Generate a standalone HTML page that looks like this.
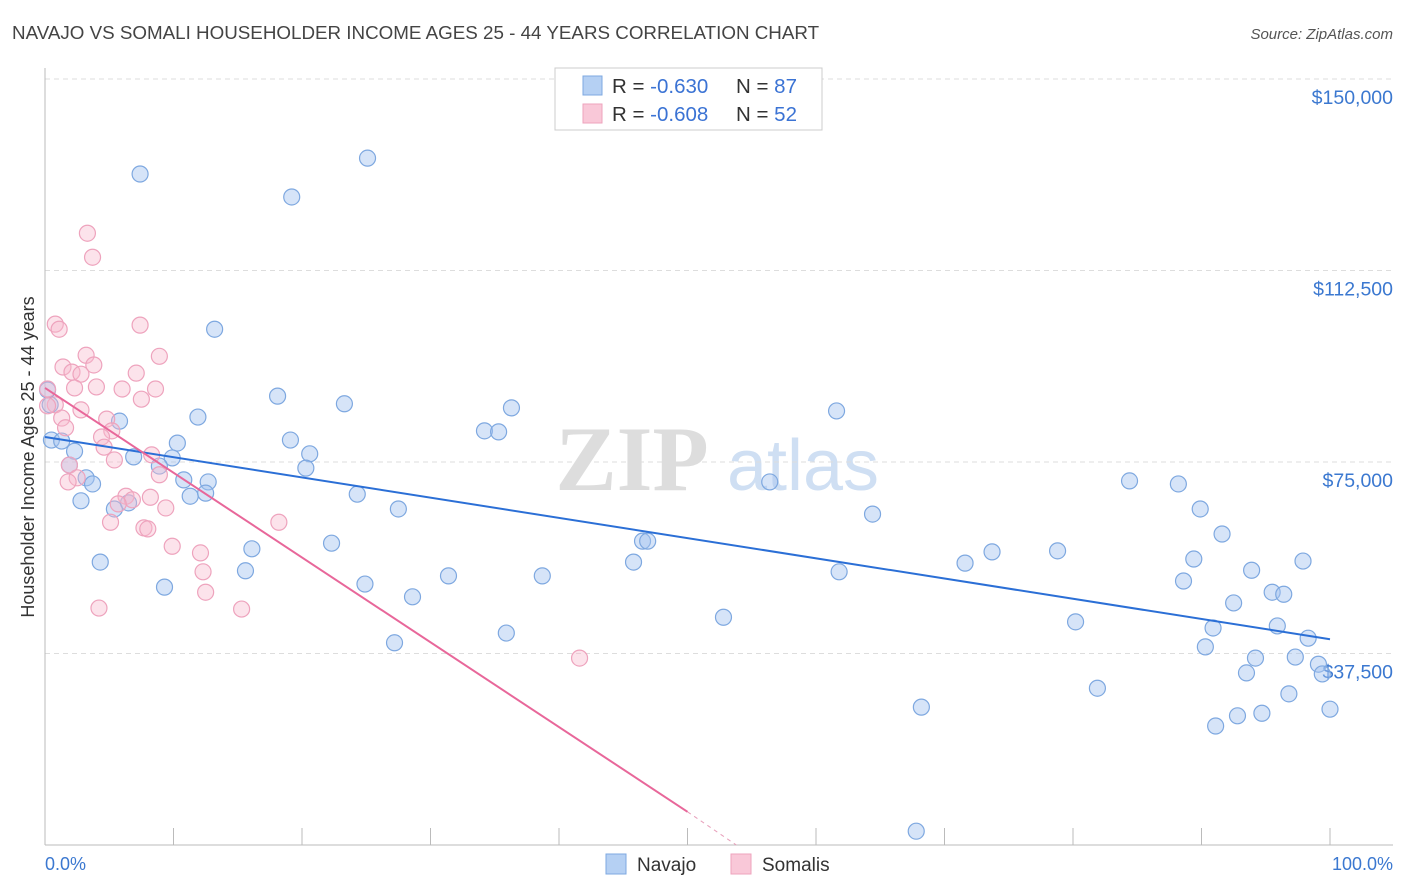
<!DOCTYPE html>
<html><head><meta charset="utf-8"><style>
body{margin:0;background:#fff;font-family:"Liberation Sans",sans-serif;}
svg{display:block}
</style></head><body>
<svg id="chart" width="1406" height="892">
<text x="12" y="39" font-size="18.8" fill="#444">NAVAJO VS SOMALI HOUSEHOLDER INCOME AGES 25 - 44 YEARS CORRELATION CHART</text>
<text x="1393" y="39" font-size="15" fill="#555" font-style="italic" text-anchor="end">Source: ZipAtlas.com</text>
<g>
<text x="632" y="490" font-size="92" fill="#ddd" font-family="Liberation Serif,serif" text-anchor="middle" font-weight="bold">ZIP</text>
<text x="803" y="490" font-size="72" fill="#cfdff3" text-anchor="middle">atlas</text>
</g>
<g id="grid"></g>
<g id="axes"></g>
<g id="marks"></g>
<g>
<rect x="555" y="68" width="267" height="62" fill="#fff" stroke="#ccc"/>
<rect x="583" y="76" width="19" height="19" fill="#b5d0f3" stroke="#7ea8e0"/>
<rect x="583" y="104" width="19" height="19" fill="#f9c8d8" stroke="#eea3bd"/>
<text x="612" y="93" font-size="20.5" fill="#333">R = <tspan fill="#3b73d4">-0.630</tspan></text>
<text x="736" y="93" font-size="20.5" fill="#333">N = <tspan fill="#3b73d4">87</tspan></text>
<text x="612" y="121" font-size="20.5" fill="#333">R = <tspan fill="#3b73d4">-0.608</tspan></text>
<text x="736" y="121" font-size="20.5" fill="#333">N = <tspan fill="#3b73d4">52</tspan></text>
</g>
<g>
<rect x="606" y="854" width="20" height="20" fill="#b5d0f3" stroke="#7ea8e0"/>
<text x="637" y="871" font-size="19" fill="#333">Navajo</text>
<rect x="731" y="854" width="20" height="20" fill="#f9c8d8" stroke="#eea3bd"/>
<text x="762" y="871" font-size="19" fill="#333">Somalis</text>
</g>
<text transform="translate(34,457) rotate(-90)" font-size="18" fill="#333" text-anchor="middle">Householder Income Ages 25 - 44 years</text>
<text x="45" y="870" font-size="18" fill="#3b78d0">0.0%</text>
<text x="1393" y="870" font-size="18" fill="#3b78d0" text-anchor="end">100.0%</text>
</svg>
<script>
const yTicks=[150000,112500,75000,37500];
const yTickLabels=["$150,000","$112,500","$75,000","$37,500"];
const navajoX=[7.4,25.1,19.2,13.2,18.1,23.3,36.3,61.6,11.9,5.8,34.2,35.3,19.1,10.3,20.6,0.5,1.3,2.3,6.9,9.9,8.9,20.3,1.9,3.2,3.7,10.8,12.7,11.3,12.5,24.3,2.8,5.4,6.5,27.5,56.4,84.4,88.2,89.9,64.4,22.3,46.5,46.9,91.6,16.1,73.7,78.8,71.6,4.3,15.6,31.4,38.7,45.8,61.8,89.4,97.9,93.9,88.6,24.9,9.3,28.6,95.5,96.4,92.5,52.8,80.2,90.9,95.9,35.9,98.3,27.2,90.3,94.2,97.3,99.1,93.5,99.4,81.9,96.8,68.2,100,92.8,94.7,91.1,67.8,0.2,0.4];
const navajoY=[131400,134500,126900,101000,87900,86400,85600,85000,83800,83000,81100,80900,79300,78700,76600,79300,79100,77100,76000,75800,74200,73800,74400,71900,70700,71500,71100,68300,68900,68700,67400,65800,67000,65800,71100,71300,70700,65800,64800,59100,59500,59500,60900,58000,57400,57600,55200,55400,53700,52700,52700,55400,53500,56000,55600,53800,51700,51100,50500,48600,49500,49100,47400,44600,43700,42500,42900,41500,40500,39600,38800,36600,36800,35400,33700,33500,30700,29600,27000,26600,25300,25800,23300,2700,89100,86200];
const somaliX=[3.3,3.7,0.8,7.4,1.1,3.2,8.9,1.4,3.8,2.1,2.8,7.1,0.2,4.0,6.0,8.6,2.3,0.8,7.5,0.2,2.8,1.3,4.8,1.6,5.2,4.4,4.6,8.3,5.4,1.9,2.5,1.8,8.9,6.3,8.2,6.8,5.7,9.4,5.1,18.2,7.7,8.0,9.9,12.1,12.3,12.5,4.2,15.3,41.6];
const somaliY=[119800,115100,102000,101800,101000,95900,95700,93600,94000,92600,92200,92400,89300,89700,89300,89300,89500,86200,87300,86000,85200,83600,83400,81700,81100,79900,77900,76400,75400,74400,71900,71100,72500,68300,68100,67600,66800,66000,63200,63200,62100,61900,58500,57200,53500,49500,46400,46200,36600];
const navajoTrend=[79900,40300];
const somaliTrend=[89500,6500,0];
const somaliTrendX=[0,50,53.8];
const NS="http://www.w3.org/2000/svg";
const xs=p=>45+p*12.85;
const ys=v=>845-v*766/150000;
function mk(tag,attrs,parent){const e=document.createElementNS(NS,tag);for(const k in attrs)e.setAttribute(k,attrs[k]);parent.appendChild(e);return e;}
const grid=document.getElementById('grid'),axes=document.getElementById('axes'),marks=document.getElementById('marks');
yTicks.forEach((v,i)=>{
 const l=mk('line',{x1:45,x2:1393,y1:ys(v),y2:ys(v),stroke:'#ddd','stroke-dasharray':'5,4'},grid);
 
 
 const t=mk('text',{x:1393,y:ys(v)+25,'font-size':19.5,fill:'#3b78d0','text-anchor':'end'},grid);
 t.textContent=yTickLabels[i];
 
 
});
let a=mk('line',{x1:45,x2:45,y1:68,y2:845,stroke:'#bbb'},axes);


a=mk('line',{x1:45,x2:1393,y1:845,y2:845,stroke:'#bbb'},axes);


for(let i=0;i<=10;i++){const t=mk('line',{x1:xs(i*10),x2:xs(i*10),y1:828,y2:845,stroke:'#bbb'},axes);
 
 }
navajoX.forEach((x,i)=>{const c=mk('circle',{cx:xs(x),cy:ys(navajoY[i]),r:8,fill:'rgba(164,196,240,0.45)',stroke:'#7ea8e0','stroke-width':1.2},marks);
 
 });
somaliX.forEach((x,i)=>{const c=mk('circle',{cx:xs(x),cy:ys(somaliY[i]),r:8,fill:'rgba(248,184,205,0.4)',stroke:'#eea3bd','stroke-width':1.2},marks);
 
 });
let t=mk('line',{x1:xs(0),y1:ys(navajoTrend[0]),x2:xs(100),y2:ys(navajoTrend[1]),stroke:'#2b6fd6','stroke-width':2},marks);


t=mk('line',{x1:xs(somaliTrendX[0]),y1:ys(somaliTrend[0]),x2:xs(somaliTrendX[1]),y2:ys(somaliTrend[1]),stroke:'#e8679a','stroke-width':2},marks);


t=mk('line',{x1:xs(somaliTrendX[1]),y1:ys(somaliTrend[1]),x2:xs(somaliTrendX[2]),y2:ys(somaliTrend[2]),stroke:'#e8a0bb','stroke-width':1,'stroke-dasharray':'4,4'},marks);


</script>
</body></html>
